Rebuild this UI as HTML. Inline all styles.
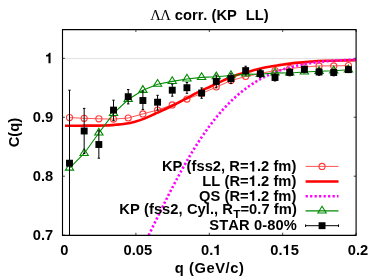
<!DOCTYPE html><html><head><meta charset="utf-8"><style>html,body{margin:0;padding:0;background:#fff}svg{display:block;will-change:transform}text{font-family:"Liberation Sans",sans-serif;font-weight:bold;font-size:14.7px;fill:#000;font-kerning:none;white-space:pre}</style></head><body>
<svg width="374" height="280" viewBox="0 0 374 280">
<rect width="374" height="280" fill="#fff"/>
<defs><clipPath id="c"><rect x="62.50" y="29.60" width="293.60" height="205.55"/></clipPath></defs>
<line x1="62.50" y1="58.55" x2="356.10" y2="58.55" stroke="#c4c4c4" stroke-width="0.5"/>
<path d="M62.50,235.15 h2.4 M356.10,235.15 h-2.4 M62.50,176.20 h2.4 M356.10,176.20 h-2.4 M62.50,117.25 h2.4 M356.10,117.25 h-2.4 M62.50,58.30 h2.4 M356.10,58.30 h-2.4 M62.50,235.15 v-2.4 M62.50,29.60 v2.4 M135.90,235.15 v-2.4 M135.90,29.60 v2.4 M209.30,235.15 v-2.4 M209.30,29.60 v2.4 M282.70,235.15 v-2.4 M282.70,29.60 v2.4 M356.10,235.15 v-2.4 M356.10,29.60 v2.4" stroke="#222" stroke-width="0.85" fill="none"/>
<g clip-path="url(#c)">
<path d="M69.49,117.60 L84.17,118.30 L98.85,118.80 L113.53,119.10 L128.21,118.00 L142.89,113.90 L157.57,110.00 L172.25,104.90 L186.93,99.10 L201.61,93.50 L216.29,87.00 L230.97,80.60 L245.65,76.50 L260.33,73.50 L275.01,70.50 L289.69,68.50 L304.37,67.00 L319.05,65.90 L333.73,65.90 L348.41,65.60" stroke="#ff4040" stroke-width="0.9" fill="none"/>
<circle cx="69.49" cy="117.60" r="3.05" stroke="#ff3838" stroke-width="1.1" fill="none"/>
<circle cx="84.17" cy="118.30" r="3.05" stroke="#ff3838" stroke-width="1.1" fill="none"/>
<circle cx="98.85" cy="118.80" r="3.05" stroke="#ff3838" stroke-width="1.1" fill="none"/>
<circle cx="113.53" cy="119.10" r="3.05" stroke="#ff3838" stroke-width="1.1" fill="none"/>
<circle cx="128.21" cy="118.00" r="3.05" stroke="#ff3838" stroke-width="1.1" fill="none"/>
<circle cx="142.89" cy="113.90" r="3.05" stroke="#ff3838" stroke-width="1.1" fill="none"/>
<circle cx="157.57" cy="110.00" r="3.05" stroke="#ff3838" stroke-width="1.1" fill="none"/>
<circle cx="172.25" cy="104.90" r="3.05" stroke="#ff3838" stroke-width="1.1" fill="none"/>
<circle cx="186.93" cy="99.10" r="3.05" stroke="#ff3838" stroke-width="1.1" fill="none"/>
<circle cx="201.61" cy="93.50" r="3.05" stroke="#ff3838" stroke-width="1.1" fill="none"/>
<circle cx="216.29" cy="87.00" r="3.05" stroke="#ff3838" stroke-width="1.1" fill="none"/>
<circle cx="230.97" cy="80.60" r="3.05" stroke="#ff3838" stroke-width="1.1" fill="none"/>
<circle cx="245.65" cy="76.50" r="3.05" stroke="#ff3838" stroke-width="1.1" fill="none"/>
<circle cx="260.33" cy="73.50" r="3.05" stroke="#ff3838" stroke-width="1.1" fill="none"/>
<circle cx="275.01" cy="70.50" r="3.05" stroke="#ff3838" stroke-width="1.1" fill="none"/>
<circle cx="289.69" cy="68.50" r="3.05" stroke="#ff3838" stroke-width="1.1" fill="none"/>
<circle cx="304.37" cy="67.00" r="3.05" stroke="#ff3838" stroke-width="1.1" fill="none"/>
<circle cx="319.05" cy="65.90" r="3.05" stroke="#ff3838" stroke-width="1.1" fill="none"/>
<circle cx="333.73" cy="65.90" r="3.05" stroke="#ff3838" stroke-width="1.1" fill="none"/>
<circle cx="348.41" cy="65.60" r="3.05" stroke="#ff3838" stroke-width="1.1" fill="none"/>
<path d="M65.00,125.75 C67.50,125.74 75.00,125.73 80.00,125.70 C85.00,125.67 90.83,125.63 95.00,125.60 C99.17,125.57 101.67,125.63 105.00,125.50 C108.33,125.37 111.67,125.08 115.00,124.80 C118.33,124.52 121.67,124.32 125.00,123.80 C128.33,123.28 131.67,122.60 135.00,121.70 C138.33,120.80 141.67,119.72 145.00,118.40 C148.33,117.08 151.67,115.33 155.00,113.80 C158.33,112.27 161.55,110.83 165.00,109.20 C168.45,107.57 172.13,105.80 175.70,104.00 C179.27,102.20 182.82,100.30 186.40,98.40 C189.98,96.50 193.10,94.63 197.20,92.60 C201.30,90.57 206.70,88.20 211.00,86.20 C215.30,84.20 218.83,82.42 223.00,80.60 C227.17,78.78 231.17,76.93 236.00,75.30 C240.83,73.67 247.00,72.15 252.00,70.80 C257.00,69.45 261.17,68.18 266.00,67.20 C270.83,66.22 276.00,65.62 281.00,64.90 C286.00,64.18 291.00,63.45 296.00,62.90 C301.00,62.35 306.00,61.95 311.00,61.60 C316.00,61.25 321.00,60.99 326.00,60.80 C331.00,60.61 336.00,60.53 341.00,60.45 C346.00,60.37 353.50,60.32 356.00,60.30" stroke="#ff0000" stroke-width="2.6" fill="none"/>
<path d="M62.50,351.37 L63.23,351.36 L63.97,351.33 L64.70,351.27 L65.44,351.20 L66.17,351.10 L66.90,350.99 L67.64,350.85 L68.37,350.69 L69.11,350.50 L69.84,350.30 L70.57,350.08 L71.31,349.83 L72.04,349.57 L72.78,349.28 L73.51,348.97 L74.24,348.64 L74.98,348.29 L75.71,347.92 L76.45,347.53 L77.18,347.12 L77.91,346.68 L78.65,346.23 L79.38,345.76 L80.12,345.26 L80.85,344.75 L81.58,344.21 L82.32,343.66 L83.05,343.09 L83.79,342.49 L84.52,341.88 L85.25,341.25 L85.99,340.60 L86.72,339.93 L87.46,339.24 L88.19,338.53 L88.92,337.80 L89.66,337.06 L90.39,336.30 L91.13,335.51 L91.86,334.71 L92.59,333.90 L93.33,333.06 L94.06,332.21 L94.80,331.34 L95.53,330.45 L96.26,329.55 L97.00,328.63 L97.73,327.69 L98.47,326.73 L99.20,325.76 L99.93,324.78 L100.67,323.78 L101.40,322.76 L102.14,321.73 L102.87,320.68 L103.60,319.62 L104.34,318.54 L105.07,317.45 L105.81,316.34 L106.54,315.22 L107.27,314.09 L108.01,312.94 L108.74,311.78 L109.48,310.60 L110.21,309.41 L110.94,308.21 L111.68,307.00 L112.41,305.78 L113.15,304.54 L113.88,303.29 L114.61,302.03 L115.35,300.76 L116.08,299.48 L116.82,298.19 L117.55,296.88 L118.28,295.57 L119.02,294.25 L119.75,292.91 L120.49,291.57 L121.22,290.22 L121.95,288.86 L122.69,287.49 L123.42,286.11 L124.16,284.72 L124.89,283.33 L125.62,281.93 L126.36,280.52 L127.09,279.10 L127.83,277.68 L128.56,276.24 L129.29,274.81 L130.03,273.36 L130.76,271.91 L131.50,270.46 L132.23,269.00 L132.96,267.53 L133.70,266.06 L134.43,264.59 L135.17,263.11 L135.90,261.62 L136.63,260.13 L137.37,258.64 L138.10,257.15 L138.84,255.65 L139.57,254.15 L140.30,252.64 L141.04,251.13 L141.77,249.62 L142.51,248.11 L143.24,246.60 L143.97,245.09 L144.71,243.57 L145.44,242.05 L146.18,240.53 L146.91,239.02 L147.64,237.50 L148.38,235.98 L149.11,234.46 L149.85,232.94 L150.58,231.42 L151.31,229.90 L152.05,228.39 L152.78,226.87 L153.52,225.36 L154.25,223.84 L154.98,222.33 L155.72,220.82 L156.45,219.32 L157.19,217.81 L157.92,216.31 L158.65,214.81 L159.39,213.31 L160.12,211.82 L160.86,210.33 L161.59,208.84 L162.32,207.36 L163.06,205.88 L163.79,204.41 L164.53,202.94 L165.26,201.47 L165.99,200.01 L166.73,198.55 L167.46,197.10 L168.20,195.65 L168.93,194.21 L169.66,192.78 L170.40,191.34 L171.13,189.92 L171.87,188.50 L172.60,187.09 L173.33,185.68 L174.07,184.28 L174.80,182.88 L175.54,181.49 L176.27,180.11 L177.00,178.74 L177.74,177.37 L178.47,176.01 L179.21,174.65 L179.94,173.31 L180.67,171.97 L181.41,170.64 L182.14,169.31 L182.88,168.00 L183.61,166.69 L184.34,165.39 L185.08,164.09 L185.81,162.81 L186.55,161.53 L187.28,160.26 L188.01,159.00 L188.75,157.75 L189.48,156.51 L190.22,155.27 L190.95,154.04 L191.68,152.83 L192.42,151.62 L193.15,150.42 L193.89,149.23 L194.62,148.04 L195.35,146.87 L196.09,145.71 L196.82,144.55 L197.56,143.41 L198.29,142.27 L199.02,141.14 L199.76,140.02 L200.49,138.91 L201.23,137.81 L201.96,136.72 L202.69,135.64 L203.43,134.57 L204.16,133.51 L204.90,132.46 L205.63,131.41 L206.36,130.38 L207.10,129.35 L207.83,128.34 L208.57,127.34 L209.30,126.34 L210.03,125.35 L210.77,124.38 L211.50,123.41 L212.24,122.45 L212.97,121.51 L213.70,120.57 L214.44,119.64 L215.17,118.72 L215.91,117.81 L216.64,116.91 L217.37,116.02 L218.11,115.14 L218.84,114.27 L219.58,113.41 L220.31,112.55 L221.04,111.71 L221.78,110.88 L222.51,110.05 L223.25,109.24 L223.98,108.43 L224.71,107.63 L225.45,106.85 L226.18,106.07 L226.92,105.30 L227.65,104.54 L228.38,103.79 L229.12,103.05 L229.85,102.31 L230.59,101.59 L231.32,100.88 L232.05,100.17 L232.79,99.47 L233.52,98.78 L234.26,98.10 L234.99,97.43 L235.72,96.77 L236.46,96.12 L237.19,95.47 L237.93,94.84 L238.66,94.21 L239.39,93.59 L240.13,92.98 L240.86,92.37 L241.60,91.78 L242.33,91.19 L243.06,90.61 L243.80,90.04 L244.53,89.48 L245.27,88.92 L246.00,88.38 L246.73,87.84 L247.47,87.31 L248.20,86.78 L248.94,86.27 L249.67,85.76 L250.40,85.26 L251.14,84.76 L251.87,84.27 L252.61,83.80 L253.34,83.32 L254.07,82.86 L254.81,82.40 L255.54,81.95 L256.28,81.50 L257.01,81.07 L257.74,80.64 L258.48,80.21 L259.21,79.80 L259.95,79.38 L260.68,78.98 L261.41,78.58 L262.15,78.19 L262.88,77.81 L263.62,77.43 L264.35,77.06 L265.08,76.69 L265.82,76.33 L266.55,75.97 L267.29,75.63 L268.02,75.28 L268.75,74.95 L269.49,74.61 L270.22,74.29 L270.96,73.97 L271.69,73.65 L272.42,73.34 L273.16,73.04 L273.89,72.74 L274.63,72.45 L275.36,72.16 L276.09,71.88 L276.83,71.60 L277.56,71.33 L278.30,71.06 L279.03,70.79 L279.76,70.54 L280.50,70.28 L281.23,70.03 L281.97,69.79 L282.70,69.55 L283.43,69.31 L284.17,69.08 L284.90,68.85 L285.64,68.63 L286.37,68.41 L287.10,68.20 L287.84,67.99 L288.57,67.78 L289.31,67.58 L290.04,67.38 L290.77,67.18 L291.51,66.99 L292.24,66.80 L292.98,66.62 L293.71,66.44 L294.44,66.26 L295.18,66.09 L295.91,65.92 L296.65,65.76 L297.38,65.59 L298.11,65.43 L298.85,65.28 L299.58,65.12 L300.32,64.97 L301.05,64.83 L301.78,64.68 L302.52,64.54 L303.25,64.40 L303.99,64.27 L304.72,64.14 L305.45,64.01 L306.19,63.88 L306.92,63.75 L307.66,63.63 L308.39,63.51 L309.12,63.40 L309.86,63.28 L310.59,63.17 L311.33,63.06 L312.06,62.96 L312.79,62.85 L313.53,62.75 L314.26,62.65 L315.00,62.55 L315.73,62.46 L316.46,62.36 L317.20,62.27 L317.93,62.18 L318.67,62.09 L319.40,62.01 L320.13,61.92 L320.87,61.84 L321.60,61.76 L322.34,61.68 L323.07,61.61 L323.80,61.53 L324.54,61.46 L325.27,61.39 L326.01,61.32 L326.74,61.25 L327.47,61.19 L328.21,61.12 L328.94,61.06 L329.68,61.00 L330.41,60.94 L331.14,60.88 L331.88,60.82 L332.61,60.77 L333.35,60.71 L334.08,60.66 L334.81,60.61 L335.55,60.55 L336.28,60.50 L337.02,60.46 L337.75,60.41 L338.48,60.36 L339.22,60.32 L339.95,60.27 L340.69,60.23 L341.42,60.19 L342.15,60.15 L342.89,60.11 L343.62,60.07 L344.36,60.03 L345.09,60.00 L345.82,59.96 L346.56,59.93 L347.29,59.89 L348.03,59.86 L348.76,59.83 L349.49,59.80 L350.23,59.77 L350.96,59.74 L351.70,59.71 L352.43,59.68 L353.16,59.65 L353.90,59.62 L354.63,59.60 L355.37,59.57 L356.10,59.55" stroke="#ff00ff" stroke-width="2.6" stroke-dasharray="2.2 2.2" fill="none"/>
<path d="M69.49,168.10 L84.17,153.45 L98.85,133.00 L113.53,113.45 L128.21,99.50 L142.89,90.30 L157.57,84.20 L172.25,81.40 L186.93,78.95 L201.61,77.40 L216.29,76.75 L230.97,75.55 L245.65,74.00 L260.33,74.30 L275.01,72.90 L289.69,73.00 L304.37,72.00 L319.05,71.30 L333.73,70.80 L348.41,69.80" stroke="#008a00" stroke-width="1.1" fill="none"/>
<path d="M69.49,163.45 l-4.15,6.72 h8.30 z" stroke="#008a00" stroke-width="1.1" fill="none"/>
<path d="M84.17,148.80 l-4.15,6.72 h8.30 z" stroke="#008a00" stroke-width="1.1" fill="none"/>
<path d="M98.85,128.35 l-4.15,6.72 h8.30 z" stroke="#008a00" stroke-width="1.1" fill="none"/>
<path d="M113.53,108.80 l-4.15,6.72 h8.30 z" stroke="#008a00" stroke-width="1.1" fill="none"/>
<path d="M128.21,94.85 l-4.15,6.72 h8.30 z" stroke="#008a00" stroke-width="1.1" fill="none"/>
<path d="M142.89,85.65 l-4.15,6.72 h8.30 z" stroke="#008a00" stroke-width="1.1" fill="none"/>
<path d="M157.57,79.55 l-4.15,6.72 h8.30 z" stroke="#008a00" stroke-width="1.1" fill="none"/>
<path d="M172.25,76.75 l-4.15,6.72 h8.30 z" stroke="#008a00" stroke-width="1.1" fill="none"/>
<path d="M186.93,74.30 l-4.15,6.72 h8.30 z" stroke="#008a00" stroke-width="1.1" fill="none"/>
<path d="M201.61,72.75 l-4.15,6.72 h8.30 z" stroke="#008a00" stroke-width="1.1" fill="none"/>
<path d="M216.29,72.10 l-4.15,6.72 h8.30 z" stroke="#008a00" stroke-width="1.1" fill="none"/>
<path d="M230.97,70.90 l-4.15,6.72 h8.30 z" stroke="#008a00" stroke-width="1.1" fill="none"/>
<path d="M245.65,69.35 l-4.15,6.72 h8.30 z" stroke="#008a00" stroke-width="1.1" fill="none"/>
<path d="M260.33,69.65 l-4.15,6.72 h8.30 z" stroke="#008a00" stroke-width="1.1" fill="none"/>
<path d="M275.01,68.25 l-4.15,6.72 h8.30 z" stroke="#008a00" stroke-width="1.1" fill="none"/>
<path d="M289.69,68.35 l-4.15,6.72 h8.30 z" stroke="#008a00" stroke-width="1.1" fill="none"/>
<path d="M304.37,67.35 l-4.15,6.72 h8.30 z" stroke="#008a00" stroke-width="1.1" fill="none"/>
<path d="M319.05,66.65 l-4.15,6.72 h8.30 z" stroke="#008a00" stroke-width="1.1" fill="none"/>
<path d="M333.73,66.15 l-4.15,6.72 h8.30 z" stroke="#008a00" stroke-width="1.1" fill="none"/>
<path d="M348.41,65.15 l-4.15,6.72 h8.30 z" stroke="#008a00" stroke-width="1.1" fill="none"/>
<path d="M69.49,90.20 V236.30 M68.29,90.20 h2.4 M68.29,236.30 h2.4" stroke="#000" stroke-width="1.0" fill="none"/>
<rect x="66.04" y="159.75" width="6.9" height="6.9" fill="#000"/>
<path d="M84.17,108.40 V153.40 M82.97,108.40 h2.4 M82.97,153.40 h2.4" stroke="#000" stroke-width="1.0" fill="none"/>
<rect x="80.72" y="127.55" width="6.9" height="6.9" fill="#000"/>
<path d="M98.85,130.80 V158.20 M97.65,130.80 h2.4 M97.65,158.20 h2.4" stroke="#000" stroke-width="1.0" fill="none"/>
<rect x="95.40" y="141.05" width="6.9" height="6.9" fill="#000"/>
<path d="M113.53,100.20 V120.60 M112.33,100.20 h2.4 M112.33,120.60 h2.4" stroke="#000" stroke-width="1.0" fill="none"/>
<rect x="110.08" y="106.65" width="6.9" height="6.9" fill="#000"/>
<path d="M128.21,89.50 V103.90 M127.01,89.50 h2.4 M127.01,103.90 h2.4" stroke="#000" stroke-width="1.0" fill="none"/>
<rect x="124.76" y="93.25" width="6.9" height="6.9" fill="#000"/>
<path d="M142.89,91.00 V109.40 M141.69,91.00 h2.4 M141.69,109.40 h2.4" stroke="#000" stroke-width="1.0" fill="none"/>
<rect x="139.44" y="97.05" width="6.9" height="6.9" fill="#000"/>
<path d="M157.57,95.30 V110.20 M156.37,95.30 h2.4 M156.37,110.20 h2.4" stroke="#000" stroke-width="1.0" fill="none"/>
<rect x="154.12" y="98.75" width="6.9" height="6.9" fill="#000"/>
<path d="M172.25,84.10 V96.20 M171.05,84.10 h2.4 M171.05,96.20 h2.4" stroke="#000" stroke-width="1.0" fill="none"/>
<rect x="168.80" y="86.75" width="6.9" height="6.9" fill="#000"/>
<path d="M186.93,82.50 V93.30 M185.73,82.50 h2.4 M185.73,93.30 h2.4" stroke="#000" stroke-width="1.0" fill="none"/>
<rect x="183.48" y="84.25" width="6.9" height="6.9" fill="#000"/>
<path d="M201.61,87.90 V98.30 M200.41,87.90 h2.4 M200.41,98.30 h2.4" stroke="#000" stroke-width="1.0" fill="none"/>
<rect x="198.16" y="89.55" width="6.9" height="6.9" fill="#000"/>
<path d="M216.29,75.20 V87.80 M215.09,75.20 h2.4 M215.09,87.80 h2.4" stroke="#000" stroke-width="1.0" fill="none"/>
<rect x="212.84" y="77.95" width="6.9" height="6.9" fill="#000"/>
<path d="M230.97,73.80 V83.40 M229.77,73.80 h2.4 M229.77,83.40 h2.4" stroke="#000" stroke-width="1.0" fill="none"/>
<rect x="227.52" y="75.15" width="6.9" height="6.9" fill="#000"/>
<path d="M245.65,66.20 V75.00 M244.45,66.20 h2.4 M244.45,75.00 h2.4" stroke="#000" stroke-width="1.0" fill="none"/>
<rect x="242.20" y="67.15" width="6.9" height="6.9" fill="#000"/>
<path d="M260.33,69.80 V77.60 M259.13,69.80 h2.4 M259.13,77.60 h2.4" stroke="#000" stroke-width="1.0" fill="none"/>
<rect x="256.88" y="70.25" width="6.9" height="6.9" fill="#000"/>
<path d="M275.01,74.00 V81.00 M273.81,74.00 h2.4 M273.81,81.00 h2.4" stroke="#000" stroke-width="1.0" fill="none"/>
<rect x="271.56" y="74.05" width="6.9" height="6.9" fill="#000"/>
<path d="M289.69,69.00 V75.80 M288.49,69.00 h2.4 M288.49,75.80 h2.4" stroke="#000" stroke-width="1.0" fill="none"/>
<rect x="286.24" y="68.95" width="6.9" height="6.9" fill="#000"/>
<path d="M304.37,66.00 V72.80 M303.17,66.00 h2.4 M303.17,72.80 h2.4" stroke="#000" stroke-width="1.0" fill="none"/>
<rect x="300.92" y="65.95" width="6.9" height="6.9" fill="#000"/>
<path d="M319.05,68.80 V75.30 M317.85,68.80 h2.4 M317.85,75.30 h2.4" stroke="#000" stroke-width="1.0" fill="none"/>
<rect x="315.60" y="68.55" width="6.9" height="6.9" fill="#000"/>
<path d="M333.73,69.30 V75.80 M332.53,69.30 h2.4 M332.53,75.80 h2.4" stroke="#000" stroke-width="1.0" fill="none"/>
<rect x="330.28" y="69.05" width="6.9" height="6.9" fill="#000"/>
<path d="M348.41,66.50 V72.60 M347.21,66.50 h2.4 M347.21,72.60 h2.4" stroke="#000" stroke-width="1.0" fill="none"/>
<rect x="344.96" y="66.15" width="6.9" height="6.9" fill="#000"/>
</g>
<path d="M62.50,29.60 H356.10 V235.40 H62.50 Z" fill="none" stroke="#000" stroke-width="1.12" stroke-linejoin="miter"/>
<path d="M305.60,166.40 H338.50" stroke="#ff4040" stroke-width="0.9"/>
<circle cx="322.05" cy="166.40" r="3.05" stroke="#ff3838" stroke-width="1.1" fill="none"/>
<path d="M305.60,181.50 H338.50" stroke="#ff0000" stroke-width="2.6"/>
<path d="M305.60,196.30 H338.50" stroke="#ff00ff" stroke-width="2.5" stroke-dasharray="2.25 2.24"/>
<path d="M305.60,210.90 H338.50" stroke="#008a00" stroke-width="1.1"/>
<path d="M322.05,206.25 l-4.15,6.72 h8.30 z" stroke="#008a00" stroke-width="1.1" fill="none"/>
<path d="M305.60,225.70 H338.50 M305.60,224.40 v2.6 M338.50,224.40 v2.6" stroke="#000" stroke-width="1.0"/>
<rect x="318.60" y="222.25" width="6.9" height="6.9" fill="#000"/>
<text x="161.93" y="171.40" style="font-size:14.70px" letter-spacing="0.050">KP (fss2, R=</text><path transform="translate(248.72,171.40) scale(0.00718,-0.00718)" d="M483 0 V950 H141 V1150 C330 1155 500 1230 565 1454 H770 V0 Z" fill="#000"/><text x="256.95" y="171.40" style="font-size:14.70px" letter-spacing="0.050">.2 fm)</text>
<text x="202.28" y="186.00" style="font-size:14.70px" letter-spacing="0.050">LL (R=</text><path transform="translate(248.72,186.00) scale(0.00718,-0.00718)" d="M483 0 V950 H141 V1150 C330 1155 500 1230 565 1454 H770 V0 Z" fill="#000"/><text x="256.95" y="186.00" style="font-size:14.70px" letter-spacing="0.050">.2 fm)</text>
<text x="199.00" y="200.80" style="font-size:14.70px" letter-spacing="0.050">QS (R=</text><path transform="translate(248.72,200.80) scale(0.00718,-0.00718)" d="M483 0 V950 H141 V1150 C330 1155 500 1230 565 1454 H770 V0 Z" fill="#000"/><text x="256.95" y="200.80" style="font-size:14.70px" letter-spacing="0.050">.2 fm)</text>
<text x="209.33" y="230.30" style="font-size:14.70px" letter-spacing="0.120">STAR 0-80%</text>
<text x="119.30" y="213.80" style="font-size:14.70px" letter-spacing="0.065">KP (fss2, Cyl., R</text>
<text x="233.14" y="218.2" style="font-size:11.8px">T</text>
<text x="240.41" y="213.80" style="font-size:14.70px" letter-spacing="0.065">=0.7 fm)</text>
<path transform="translate(45.02,63.30) scale(0.00718,-0.00718)" d="M483 0 V950 H141 V1150 C330 1155 500 1230 565 1454 H770 V0 Z" fill="#000"/>
<text x="32.76" y="122.25" style="font-size:14.70px">0.9</text>
<text x="32.76" y="181.20" style="font-size:14.70px">0.8</text>
<text x="32.76" y="240.15" style="font-size:14.70px">0.7</text>
<text x="60.31" y="255.10" style="font-size:14.70px">0</text>
<text x="123.49" y="255.10" style="font-size:14.70px">0.05</text>
<text x="200.98" y="255.10" style="font-size:14.70px">0.</text><path transform="translate(213.24,255.10) scale(0.00718,-0.00718)" d="M483 0 V950 H141 V1150 C330 1155 500 1230 565 1454 H770 V0 Z" fill="#000"/>
<text x="270.29" y="255.10" style="font-size:14.70px">0.</text><path transform="translate(282.55,255.10) scale(0.00718,-0.00718)" d="M483 0 V950 H141 V1150 C330 1155 500 1230 565 1454 H770 V0 Z" fill="#000"/><text x="290.73" y="255.10" style="font-size:14.70px">5</text>
<text x="347.78" y="255.10" style="font-size:14.70px">0.2</text>
<text x="174.8" y="273.1" textLength="69" lengthAdjust="spacing">q (GeV/c)</text>
<text transform="translate(19.3,132.6) rotate(-90)" text-anchor="middle">C(q)</text>
<text x="150.2" y="19.5" style="font-family:'Liberation Serif',serif;font-weight:normal">Λ</text>
<text x="160.3" y="19.5" style="font-family:'Liberation Serif',serif;font-weight:normal">Λ</text>
<text x="174.8" y="19.5">corr. (KP</text>
<text x="245.8" y="19.5">LL)</text>
</svg></body></html>
